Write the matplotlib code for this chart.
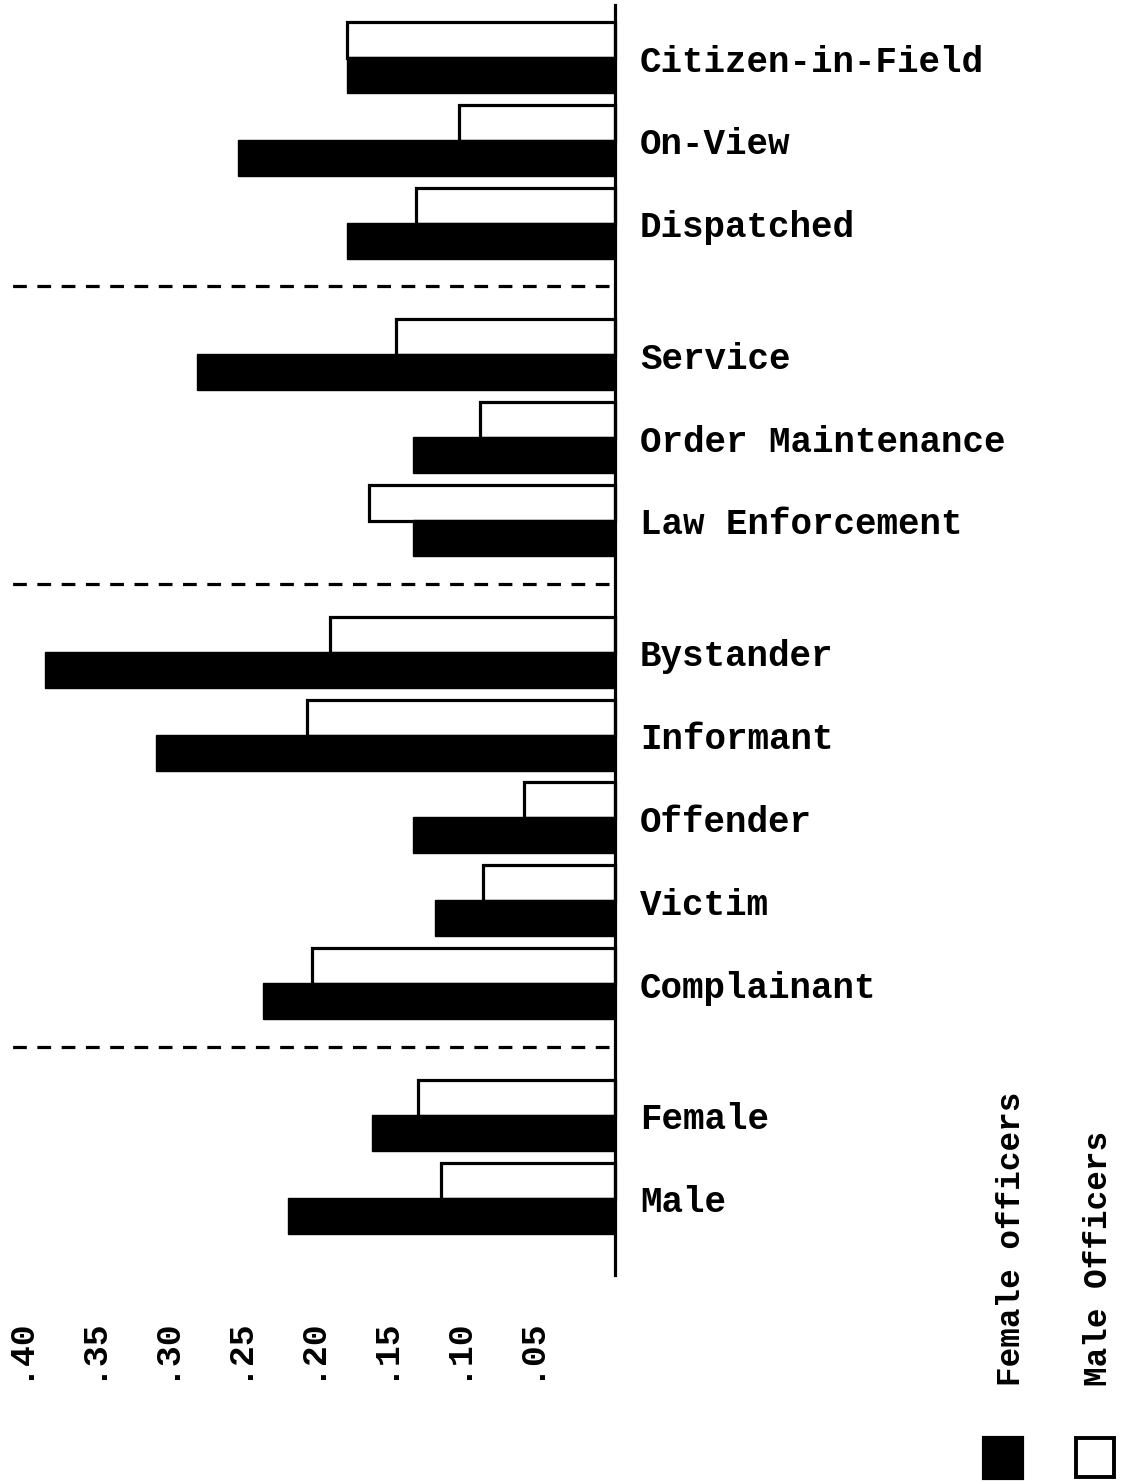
import numpy as np
import matplotlib.pyplot as plt
from matplotlib.patches import Rectangle

categories = ['Citizen-in-Field', 'On-View', 'Dispatched',
              'Service', 'Order Maintenance', 'Law Enforcement',
              'Bystander', 'Informant', 'Offender', 'Victim', 'Complainant',
              'Female', 'Male']
groups = [0, 0, 0, 1, 1, 1, 2, 2, 2, 2, 2, 3, 3]

female_officers = [0.183, 0.258, 0.183, 0.286, 0.138, 0.138,
                   0.390, 0.314, 0.138, 0.123, 0.241, 0.166, 0.224]
male_officers = [0.183, 0.107, 0.136, 0.150, 0.092, 0.168,
                 0.195, 0.211, 0.062, 0.090, 0.207, 0.135, 0.119]

ticks = [0.40, 0.35, 0.30, 0.25, 0.20, 0.15, 0.10, 0.05]
tick_labels = ['.40', '.35', '.30', '.25', '.20', '.15', '.10', '.05']

font = ['Liberation Mono', 'DejaVu Sans Mono']

fig = plt.figure(figsize=(11.28, 14.83), dpi=100)
ax = fig.add_axes([0, 0, 1, 1])
# x in data units (inverted), y in pixels from the top
px = 1462.0
ax.set_xlim(615 / px, -(1128 - 615) / px)
ax.set_ylim(1483, 0)
ax.axis('off')

centers = 75 + 82.8 * np.arange(len(categories)) + 49 * np.array(groups)
bh = 36
lw = 2.3

for i, cat in enumerate(categories):
    c = centers[i]
    # male officers: white bar, raised
    ax.add_patch(Rectangle((0, c - 35 - bh / 2), male_officers[i], bh,
                           facecolor='white', edgecolor='black', linewidth=lw, zorder=2))
    # female officers: black bar
    ax.add_patch(Rectangle((0, c - bh / 2), female_officers[i], bh,
                           facecolor='black', edgecolor='black', linewidth=1, zorder=3))
    ax.text(-0.017, c - 13, cat, fontsize=25.8, fontweight='bold', family=font,
            ha='left', va='center', zorder=4)

# dashed separators between groups
for g in [1, 2, 3]:
    first = groups.index(g)
    y = centers[first] - 86
    ax.plot([0.004, 0.415], [y, y], color='black', lw=lw,
            dashes=(4.3, 3.3), zorder=2)

# axis line
ax.plot([0, 0], [5, 1275], color='black', lw=lw, zorder=5)

# tick labels
for t, lab in zip(ticks, tick_labels):
    ax.text(t + 0.009, 1348, lab, rotation=90, fontsize=25, fontweight='bold',
            family=font, ha='center', va='center')

# legend
ax.text(-0.271, 1386, 'Female officers', rotation=90, fontsize=23.5,
        fontweight='bold', family=font, ha='center', va='bottom')
ax.text(-0.331, 1386, 'Male Officers', rotation=90, fontsize=23.5,
        fontweight='bold', family=font, ha='center', va='bottom')
ax.add_patch(Rectangle((-(983 - 615) / px, 1437), -(39 / px), 41,
                       facecolor='black', edgecolor='black', linewidth=lw))
ax.add_patch(Rectangle((-(1076 - 615) / px, 1438), -(38 / px), 39,
                       facecolor='white', edgecolor='black', linewidth=lw + 0.5))

plt.savefig('out.png', dpi=100)
plt.close()
